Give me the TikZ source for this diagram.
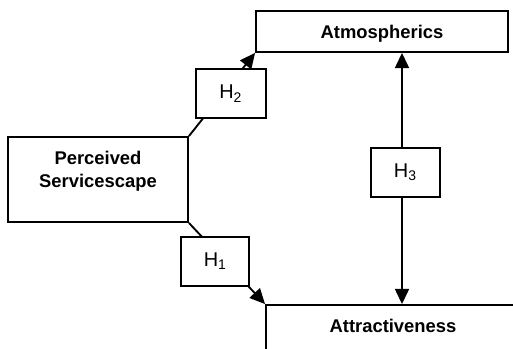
\documentclass[tikz,border=0pt]{standalone}
\usepackage{fontspec}
\setmainfont{Liberation Sans}
\usetikzlibrary{arrows.meta}

\begin{document}
\begin{tikzpicture}[x=0.03cm, y=-0.03cm,
    font=\fontsize{15.7}{19.6}\selectfont,
    line width=1.6pt,
    box/.style={draw, inner sep=0pt},
    hbox/.style={draw, fill=white, inner sep=0pt,
        minimum height=1.47cm, font=\fontsize{17}{20}\selectfont},
    tip/.style={-{Triangle[length=13pt, width=12pt]}},
    twotip/.style={{Triangle[length=13pt, width=12pt]}-{Triangle[length=13pt, width=12pt]}}]

\clip (0, 0) rectangle (513, 349);

\node[box, minimum width=7.56cm, minimum height=1.23cm,
    text depth=0pt, font=\fontsize{15.7}{19.6}\selectfont\bfseries]
    (atm) at (382, 31.5) {Atmospherics};
\node[box, minimum width=5.4cm, minimum height=2.55cm]
    (perc) at (98, 179.5) {};
\node[align=center, font=\fontsize{15.7}{19.6}\selectfont\bfseries]
    (perctxt) at (98, 171) {Perceived\\Servicescape};
\node[box, minimum width=8.82cm, minimum height=2.25cm]
    (attr) at (413, 342.5) {};
\node[font=\fontsize{15.7}{19.6}\selectfont\bfseries]
    (attrtxt) at (393, 326) {Attractiveness};

% hypotheses
\draw[tip] (perc.north east) --
    node[hbox, pos=0.51, xshift=0.24cm, minimum width=2.1cm] (h2)
    {H\textsubscript{2}} (atm.south west);
\draw[tip] (perc.south east) --
    node[hbox, pos=0.476, xshift=-0.3cm, minimum width=2.04cm] (h1)
    {H\textsubscript{1}} (attr.north west);
\draw[twotip] (attr.north west -| 402, 0) --
    node[hbox, pos=0.524, xshift=0.1cm, minimum width=2.07cm] (h3)
    {H\textsubscript{3}} (atm.south west -| 402, 0);

\end{tikzpicture}
\end{document}
